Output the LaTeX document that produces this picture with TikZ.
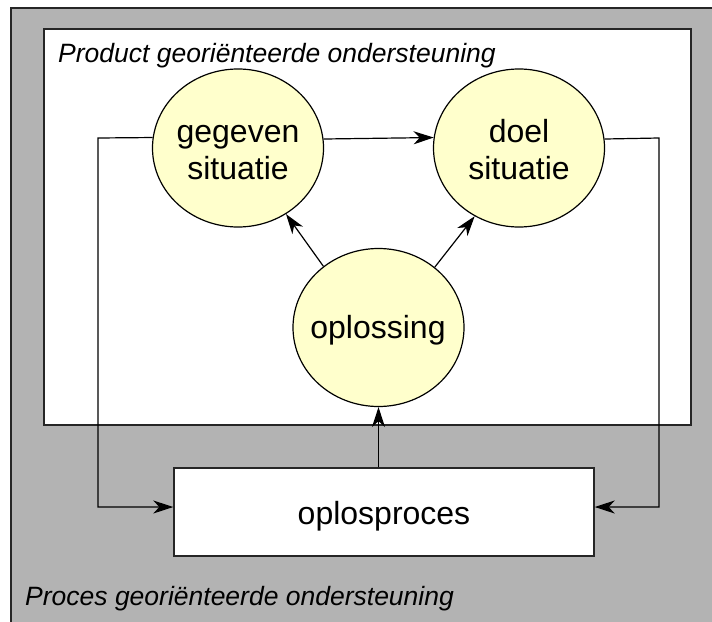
\documentclass[tikz,border=0pt]{standalone}
\usepackage{fontspec}
\setmainfont{Liberation Sans}
\usetikzlibrary{shapes.geometric,arrows.meta}

\definecolor{panelgray}{HTML}{B3B3B3}
\definecolor{bubble}{HTML}{FFFFCC}

\tikzset{
  frame/.style={draw=black!85, line width=1.4pt},
  bubblenode/.style={ellipse, draw=black, line width=1.2pt, fill=bubble,
    minimum width=171pt, minimum height=158pt, inner sep=0pt},
  procbox/.style={rectangle, draw=black!85, line width=1.4pt, fill=white,
    minimum width=420pt, minimum height=88pt, inner sep=0pt},
  word/.style={font=\fontsize{32}{37}\selectfont, inner sep=0pt, anchor=base},
  caption/.style={font=\fontsize{26.5}{30}\selectfont\itshape, inner sep=0pt, anchor=base west},
  arr/.style={draw=black, line width=1.2pt,
    -{Stealth[length=20pt, width=13pt, inset=6pt]}}
}

\begin{document}
\begin{tikzpicture}[x=1pt, y=-1pt]
  \useasboundingbox (0,0) rectangle (712,621);
  \begin{scope}
    \clip (0,0) rectangle (712,621);
    % outer panel: process oriented support
    \draw[frame, fill=panelgray] (11,8) rectangle (730,640);
  \end{scope}
  % inner panel: product oriented support
  \draw[frame, fill=white] (44,29) rectangle (691,425);

  \node[caption] (prodlbl) at (58,62) {Product georiënteerde ondersteuning};
  \node[caption] (proclbl) at (25,605) {Proces georiënteerde ondersteuning};

  % situations and solution
  \node[bubblenode] (geg) at (238,148) {};
  \node[bubblenode] (doel) at (519,148) {};
  \node[bubblenode] (opl) at (378.5,327.5) {};

  \node[word] (gegA) at (238,142) {gegeven};
  \node[word] (gegB) at (238,179) {situatie};
  \node[word] (doelA) at (519,142) {doel};
  \node[word] (doelB) at (519,179) {situatie};
  \node[word] (oplA) at (378,338) {oplossing};

  % solving process
  \node[procbox] (box) at (384,512) {};
  \node[word] (boxA) at (384,524) {oplosproces};

  % connectors
  \draw[arr] (geg.6.8) -- (doel.173.2);
  \draw[arr] (opl.132.8) -- (geg.306);
  \draw[arr] (opl.47.5) -- (doel.237.6);
  \draw[arr] (opl.south |- box.north) -- (opl.south);

  \coordinate (lt) at (98,138);
  \coordinate (lb) at (98,507);
  \coordinate (rt) at (659,138);
  \coordinate (rb) at (659,507);
  \draw[arr] (geg.173.2) -- (lt) -- (lb) -- (box.west |- lb);
  \draw[arr] (doel.6.8) -- (rt) -- (rb) -- (box.east |- rb);
\end{tikzpicture}
\end{document}
